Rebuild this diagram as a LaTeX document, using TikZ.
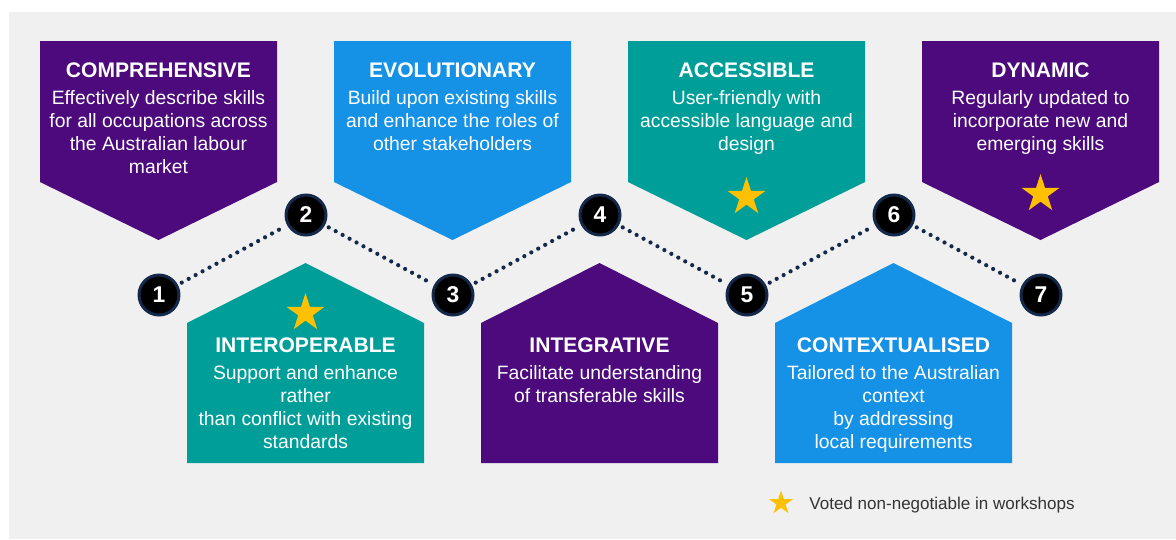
\documentclass[tikz,border=0pt]{standalone}
\usepackage{fontspec}
\setmainfont{Liberation Sans}
\usepackage{xcolor}
\usepackage{tikz}
\usetikzlibrary{shapes.geometric}

\definecolor{skillpurple}{HTML}{4C0A7C}
\definecolor{skillblue}{HTML}{1591E6}
\definecolor{skillteal}{HTML}{009E98}
\definecolor{stargold}{HTML}{FFC000}
\definecolor{dotnavy}{HTML}{14294A}
\definecolor{panelgray}{HTML}{F0F0F0}
\definecolor{legendgray}{HTML}{333333}

\begin{document}
\begin{tikzpicture}[x=0.02cm, y=-0.02cm,
    title/.style={anchor=base, inner sep=0pt, text=white, font=\fontsize{12}{14}\selectfont\bfseries},
    blurb/.style={anchor=base, align=center, inner sep=0pt, text=white, font=\fontsize{11}{13.04}\selectfont},
    num/.style={circle, fill=black, draw=dotnavy, line width=1.7pt, minimum size=0.8cm, inner sep=0pt, text=white, font=\fontsize{13}{15}\selectfont\bfseries},
    goldstar/.style={star, star points=5, star point ratio=2.618, fill=stargold, minimum size=0.8cm, inner sep=0pt},
    link/.style={dotnavy, line width=2.4pt, line cap=round, dash pattern=on 0pt off 4.5pt, shorten <=2.5pt, shorten >=2.5pt}]
  \useasboundingbox[fill=white] (0,0) rectangle (1176,539);
  \fill[panelgray] (9,12) rectangle (1176,539);

  \fill[skillpurple] (40,41) -- (277,41) -- (277,182) -- (158.5,240) -- (40,182) -- cycle;
  \fill[skillblue] (334,41) -- (571,41) -- (571,182) -- (452.5,240) -- (334,182) -- cycle;
  \fill[skillteal] (628,41) -- (865,41) -- (865,182) -- (746.5,240) -- (628,182) -- cycle;
  \fill[skillpurple] (922,41) -- (1159,41) -- (1159,182) -- (1040.5,240) -- (922,182) -- cycle;
  \fill[skillteal] (187,463) -- (187,323) -- (305.5,263) -- (424,323) -- (424,463) -- cycle;
  \fill[skillpurple] (481,463) -- (481,323) -- (599.5,263) -- (718,323) -- (718,463) -- cycle;
  \fill[skillblue] (775,463) -- (775,323) -- (893.5,263) -- (1012,323) -- (1012,463) -- cycle;

  \node[title] (comp) at (158.5,77) {COMPREHENSIVE};
  \node[blurb] (compText) at (158.5,173) {Effectively describe skills\\for all occupations across\\the Australian labour\\market};
  \node[title] (evol) at (452.5,77) {EVOLUTIONARY};
  \node[blurb] (evolText) at (452.5,150) {Build upon existing skills\\and enhance the roles of\\other stakeholders};
  \node[title] (acc) at (746.5,77) {ACCESSIBLE};
  \node[blurb] (accText) at (746.5,150) {User-friendly with\\accessible language and\\design};
  \node[title] (dyn) at (1040.5,77) {DYNAMIC};
  \node[blurb] (dynText) at (1040.5,150) {Regularly updated to\\incorporate new and\\emerging skills};
  \node[title] (inter) at (305.5,352) {INTEROPERABLE};
  \node[blurb] (interText) at (305.5,448) {Support and enhance\\rather\\than conflict with existing\\standards};
  \node[title] (integ) at (599.5,352) {INTEGRATIVE};
  \node[blurb] (integText) at (599.5,402) {Facilitate understanding\\of transferable skills};
  \node[title] (context) at (893.5,352) {CONTEXTUALISED};
  \node[blurb] (contextText) at (893.5,448) {Tailored to the Australian\\context\\by addressing\\local requirements};

  \node[goldstar] (accStar) at (746.5,197) {};
  \node[goldstar] (dynStar) at (1040.5,194) {};
  \node[goldstar] (interStar) at (305.5,313) {};

  \node[num] (n1) at (159,295) {1};
  \node[num] (n2) at (306,215) {2};
  \node[num] (n3) at (453,295) {3};
  \node[num] (n4) at (600,215) {4};
  \node[num] (n5) at (747,295) {5};
  \node[num] (n6) at (894,215) {6};
  \node[num] (n7) at (1041,295) {7};
  \draw[link] (n1) -- (n2);
  \draw[link] (n2) -- (n3);
  \draw[link] (n3) -- (n4);
  \draw[link] (n4) -- (n5);
  \draw[link] (n5) -- (n6);
  \draw[link] (n6) -- (n7);

  \node[goldstar, minimum size=0.5cm] (keyStar) at (781,503) {};
  \node[anchor=base west, inner sep=0pt, text=legendgray, font=\fontsize{9.7}{12}\selectfont] (keyText) at (809,509) {Voted non-negotiable in workshops};
\end{tikzpicture}
\end{document}
